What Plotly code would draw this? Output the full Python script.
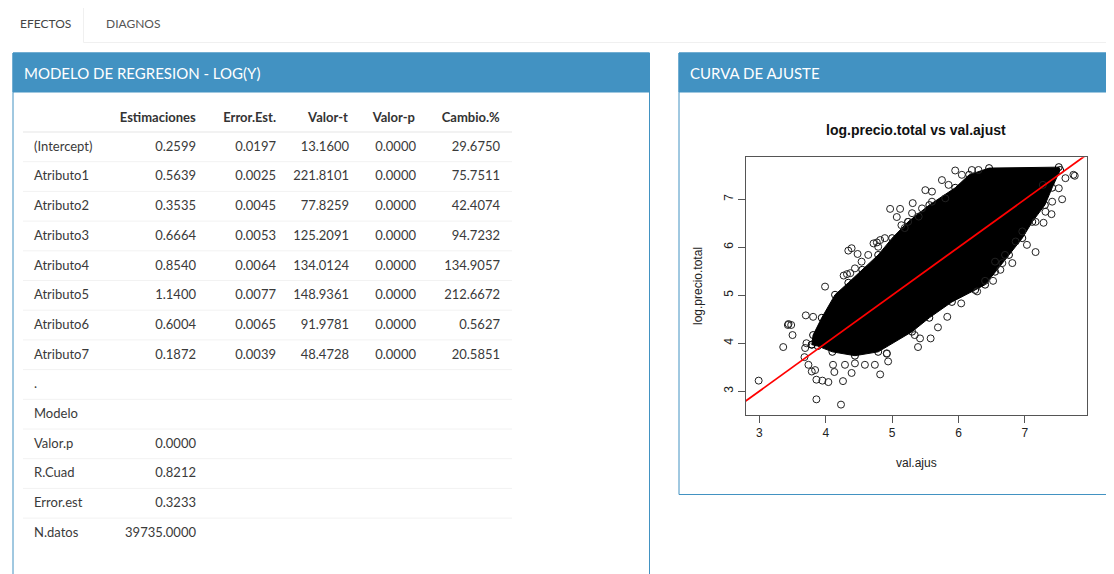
import plotly.graph_objects as go

PAGE_W, PAGE_H = 1114, 574
OFF = 8                       # browser body margin
W, H = PAGE_W - OFF, PAGE_H - OFF

# ---------------- data ----------------
tabs = ["EFECTOS", "DIAGNOS"]
box_titles = ["MODELO DE REGRESION - LOG(Y)", "CURVA DE AJUSTE"]

col_headers = ["", "Estimaciones", "Error.Est.", "Valor-t", "Valor-p", "Cambio.%"]
row_names = ["(Intercept)", "Atributo1", "Atributo2", "Atributo3", "Atributo4",
             "Atributo5", "Atributo6", "Atributo7", ".", "Modelo", "Valor.p",
             "R.Cuad", "Error.est", "N.datos"]
estimaciones = ["0.2599", "0.5639", "0.3535", "0.6664", "0.8540", "1.1400", "0.6004",
                "0.1872", "", "", "0.0000", "0.8212", "0.3233", "39735.0000"]
error_est = ["0.0197", "0.0025", "0.0045", "0.0053", "0.0064", "0.0077", "0.0065",
             "0.0039", "", "", "", "", "", ""]
valor_t = ["13.1600", "221.8101", "77.8259", "125.2091", "134.0124", "148.9361",
           "91.9781", "48.4728", "", "", "", "", "", ""]
valor_p = ["0.0000", "0.0000", "0.0000", "0.0000", "0.0000", "0.0000", "0.0000",
           "0.0000", "", "", "", "", "", ""]
cambio = ["29.6750", "75.7511", "42.4074", "94.7232", "134.9057", "212.6672",
          "0.5627", "20.5851", "", "", "", "", "", ""]

plot_title = "log.precio.total vs val.ajust"
x_label = "val.ajus"
y_label = "log.precio.total"
x_ticks = [3, 4, 5, 6, 7]
y_ticks = [3, 4, 5, 6, 7]
x_range = [2.795, 7.93]
y_range = [2.51, 7.875]

# outline of the dense (fully black) point cloud
cloud_x = [3.79, 3.81, 3.94, 4.14, 4.34, 4.55, 4.79, 5.00, 5.24, 5.56, 5.95, 6.16,
           6.46, 7.51, 7.53, 7.41, 7.30, 7.11, 6.96, 6.76, 6.55, 6.40, 6.25, 5.90,
           5.56, 5.30, 4.79, 4.44, 4.10, 3.88]
cloud_y = [3.97, 4.17, 4.53, 5.01, 5.26, 5.53, 5.84, 6.19, 6.53, 6.88, 7.24, 7.51,
           7.65, 7.67, 7.61, 7.24, 6.88, 6.53, 6.19, 5.84, 5.49, 5.22, 5.11, 4.86,
           4.53, 4.24, 3.82, 3.74, 3.82, 3.94]

# individually visible points around the dense cloud
out_x = [2.99, 3.86, 4.23, 3.36, 3.43, 3.48, 3.50, 3.70, 4.82, 4.04, 3.95, 4.13,
         4.26, 4.39, 4.92, 3.81, 3.68, 3.84, 3.99, 4.34, 4.39, 3.44, 4.97, 5.12,
         5.31, 5.95, 7.16, 6.66, 6.52, 7.73, 7.56, 7.27, 7.40, 4.82, 4.72, 4.48,
         4.27, 4.32, 4.37, 4.77, 5.07, 5.14, 5.50, 5.75, 7.03, 6.81, 7.28, 7.75,
         7.61, 6.40, 6.63, 6.28, 6.04, 5.83, 5.69, 5.58, 5.42, 5.39, 5.34, 4.92,
         5.45, 5.60, 5.80, 5.40,
         3.74, 3.79, 3.86, 4.11, 4.29, 4.44, 4.59, 4.74, 4.94, 3.69, 3.71,
         6.96, 6.86, 6.70, 6.55, 7.16, 7.31, 7.41, 7.51,
         5.60, 5.85, 6.05, 6.20, 6.30, 5.30,
         4.89, 4.79, 4.64, 4.54, 4.44, 5.24, 5.19]
out_y = [3.22, 2.83, 2.72, 3.92, 4.38, 4.38, 4.17, 4.58, 3.35, 3.19, 3.22, 3.40,
         3.21, 3.38, 3.79, 4.55, 3.71, 3.44, 5.18, 5.93, 5.98, 4.40, 6.80, 6.80,
         6.92, 7.60, 5.90, 5.67, 5.30, 7.51, 7.00, 7.30, 6.69, 6.15, 6.08, 5.86,
         5.41, 5.44, 5.46, 6.10, 6.63, 6.46, 7.19, 7.40, 6.05, 5.67, 6.51, 7.49,
         7.44, 5.30, 5.53, 5.08, 4.83, 4.55, 4.33, 4.10, 4.10, 3.92, 4.17, 3.78,
         6.81, 6.95, 7.02, 6.64,
         3.55, 3.41, 3.24, 3.55, 3.55, 3.58, 3.55, 3.55, 3.62, 3.90, 4.00,
         6.33, 6.12, 5.84, 5.70, 6.53, 6.74, 6.95, 7.23,
         7.16, 7.30, 7.51, 7.61, 7.61, 6.71,
         6.19, 6.01, 5.84, 5.70, 5.56, 6.53, 6.40]

# fitted reference line: abline(intercept, slope)
abline_intercept = 0.0
abline_slope = 1.0

# ---------------- helpers (page pixel -> paper) ----------------
def fx(p):
    return (p - OFF) / W


def fy(p):
    return 1 - (p - OFF) / H


BLUE = "#4292c2"
FONT = "Lato"

fig = go.Figure()

# ---------- table ----------
tbl_left, tbl_right = 26, 508
tbl_top = 101
head_h = 30
row_h = 29.7
fig.add_trace(go.Table(
    domain=dict(x=[fx(tbl_left), fx(tbl_right)], y=[fy(570), fy(tbl_top)]),
    columnwidth=[82, 96, 80, 73, 67, 84],
    header=dict(
        values=["<b>%s</b>" % h if h else "" for h in col_headers],
        align=["left", "right", "right", "right", "right", "right"],
        font=dict(family=FONT, size=13, color="#333"),
        fill_color="rgba(0,0,0,0)",
        line_color="rgba(0,0,0,0)",
        height=head_h,
    ),
    cells=dict(
        values=[row_names, estimaciones, error_est, valor_t, valor_p, cambio],
        align=["left", "right", "right", "right", "right", "right"],
        font=dict(family=FONT, size=13, color="#3a3a3a"),
        fill_color="rgba(0,0,0,0)",
        line_color="rgba(0,0,0,0)",
        height=row_h,
    ),
))

# ---------- scatter ----------
fig.add_trace(go.Scatter(
    x=cloud_x + [cloud_x[0]], y=cloud_y + [cloud_y[0]],
    mode="lines+markers", fill="toself", fillcolor="black",
    line=dict(color="black", width=1),
    marker=dict(symbol="circle-open", size=7, color="black", line=dict(width=1)),
    hoverinfo="skip", showlegend=False, xaxis="x", yaxis="y",
))
fig.add_trace(go.Scatter(
    x=out_x, y=out_y, mode="markers",
    marker=dict(symbol="circle-open", size=7, color="#222", line=dict(width=1)),
    showlegend=False, xaxis="x", yaxis="y",
))
fig.add_trace(go.Scatter(
    x=x_range, y=[abline_intercept + abline_slope * v for v in x_range],
    mode="lines", line=dict(color="#ff0000", width=1.8),
    showlegend=False, xaxis="x", yaxis="y",
))

plot_l, plot_r, plot_t, plot_b = 745.7, 1086.7, 157.3, 414.7
axis_common = dict(
    showgrid=False, zeroline=False, showline=True, mirror=True,
    linecolor="#555", linewidth=1, ticks="outside", ticklen=7,
    tickcolor="#555", tickfont=dict(family="Liberation Sans", size=12, color="#222"),
)
fig.update_layout(
    xaxis=dict(domain=[fx(plot_l), fx(plot_r)], range=x_range, tickvals=x_ticks,
               anchor="y", **axis_common),
    yaxis=dict(domain=[fy(plot_b), fy(plot_t)], range=y_range, tickvals=y_ticks,
               tickangle=-90, anchor="x", **axis_common),
)

# ---------- page decoration ----------
shapes = []
shapes.append(dict(type="line", xref="paper", yref="paper", x0=fx(83.5), x1=fx(83.5),
                   y0=fy(42.5), y1=1, line=dict(color="#f0f0f0", width=1), layer="below"))
shapes.append(dict(type="line", xref="paper", yref="paper", x0=fx(83.5), x1=1,
                   y0=fy(42.5), y1=fy(42.5), line=dict(color="#f0f0f0", width=1), layer="below"))
boxes = [(13, 649.5, 53, 600), (679, 1130, 53, 494.5)]
for (l, r, t, b) in boxes:
    shapes.append(dict(type="rect", xref="paper", yref="paper", x0=fx(l), x1=fx(r),
                       y0=fy(b), y1=fy(t), fillcolor="white",
                       line=dict(color=BLUE, width=1), layer="below"))
    shapes.append(dict(type="rect", xref="paper", yref="paper", x0=fx(l), x1=fx(r),
                       y0=fy(92), y1=fy(t), fillcolor=BLUE,
                       line=dict(color=BLUE, width=1), layer="below"))
# table separators
shapes.append(dict(type="line", xref="paper", yref="paper", x0=fx(23), x1=fx(512),
                   y0=fy(tbl_top + head_h + 1), y1=fy(tbl_top + head_h + 1),
                   line=dict(color="#f2f2f2", width=2), layer="below"))
for k in range(1, len(row_names)):
    yy = tbl_top + head_h + 1 + k * row_h
    shapes.append(dict(type="line", xref="paper", yref="paper", x0=fx(23), x1=fx(512),
                       y0=fy(yy), y1=fy(yy), line=dict(color="#f2f2f2", width=1),
                       layer="below"))

annotations = []
tab_x = [18, 104]
tab_col = ["#444", "#555"]
for t, x, c in zip(tabs, tab_x, tab_col):
    annotations.append(dict(text=t, xref="paper", yref="paper", x=fx(x), y=fy(24),
                            xanchor="left", yanchor="middle", showarrow=False,
                            font=dict(family=FONT, size=12, color=c)))
for t, x in zip(box_titles, [21.5, 687.5]):
    annotations.append(dict(text=t, xref="paper", yref="paper", x=fx(x), y=fy(72.5),
                            xanchor="left", yanchor="middle", showarrow=False,
                            font=dict(family=FONT, size=15, color="white")))
annotations.append(dict(text="<b>%s</b>" % plot_title, xref="paper", yref="paper",
                        x=fx(916), y=fy(130.5), xanchor="center", yanchor="middle",
                        showarrow=False,
                        font=dict(family="Liberation Sans", size=14, color="#111")))
annotations.append(dict(text=x_label, xref="paper", yref="paper", x=fx(916.5), y=fy(463),
                        xanchor="center", yanchor="middle", showarrow=False,
                        font=dict(family="Liberation Sans", size=12, color="#222")))
annotations.append(dict(text=y_label, xref="paper", yref="paper", x=fx(698), y=fy(286),
                        xanchor="center", yanchor="middle", showarrow=False, textangle=-90,
                        font=dict(family="Liberation Sans", size=12, color="#222")))

fig.update_layout(
    width=W, height=H, margin=dict(l=0, r=0, t=0, b=0),
    paper_bgcolor="white", plot_bgcolor="white",
    shapes=shapes, annotations=annotations, showlegend=False,
)

fig.write_html("out.html")
